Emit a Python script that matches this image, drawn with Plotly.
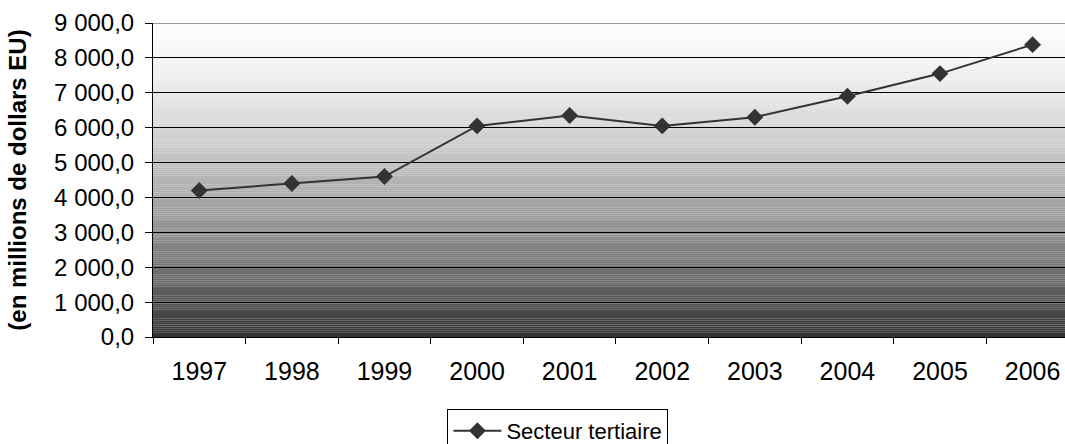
import plotly.graph_objects as go

years = ["1997", "1998", "1999", "2000", "2001", "2002", "2003", "2004", "2005", "2006"]
tertiaire = [4200, 4400, 4600, 6050, 6350, 6050, 6300, 6900, 7550, 8380]
series_name = "Secteur tertiaire"
y_title = "(en millions de dollars EU)"

fig = go.Figure()
fig.add_trace(go.Scatter(
    x=years, y=tertiaire, name=series_name, mode="lines+markers",
    line=dict(color="#333333", width=2),
    marker=dict(symbol="diamond", size=13, color="#333333"),
))

# vertical gradient background (white at top to dark grey at bottom)
n = 150
ymax = 9000
for i in range(n):
    f0 = i / n
    fc = (i + 0.5) / n
    v = int(round(252 - 202 * (fc ** 1.5)))
    fig.add_shape(type="rect", xref="paper", yref="y", x0=0, x1=1,
                  y0=ymax * (1 - f0) - ymax / n - 1, y1=ymax * (1 - f0),
                  fillcolor=f"rgb({v},{v},{v})", line=dict(width=0), layer="below")
fig.add_shape(type="line", xref="paper", yref="y", x0=0, x1=1, y0=ymax, y1=ymax,
              line=dict(color="#999999", width=2), layer="above")

font = "Liberation Sans, Arial, sans-serif"
fig.update_layout(
    width=1065, height=444,
    margin=dict(l=153, r=0, t=23, b=107, autoexpand=False),
    paper_bgcolor="white", plot_bgcolor="white",
    separators=", ",
    font=dict(family=font, color="black", size=20),
    showlegend=True,
    legend=dict(x=0.444, y=-0.229, xanchor="center", yanchor="top",
                bordercolor="black", borderwidth=1, bgcolor="white",
                itemwidth=48, font=dict(size=22)),
    xaxis=dict(range=[-0.5, 9.35], tickson="boundaries", ticks="outside", ticklen=6,
               tickcolor="black", showline=True, linecolor="black", linewidth=1,
               showgrid=False, tickfont=dict(size=25), ticklabelstandoff=12,
               automargin=False),
    yaxis=dict(range=[0, 9000], dtick=1000, tickformat=",.1f", ticks="outside",
               ticklen=7, tickcolor="black", showline=True, linecolor="black",
               linewidth=1, showgrid=True, gridcolor="black", gridwidth=1,
               tickfont=dict(size=24), ticklabelstandoff=6, zeroline=False,
               automargin=False,
               title=dict(text=f"<b>{y_title}</b>", font=dict(size=24), standoff=20)),
)
fig.write_html("out.html", config={"displayModeBar": False},
               post_script="document.body.style.margin='0';")
